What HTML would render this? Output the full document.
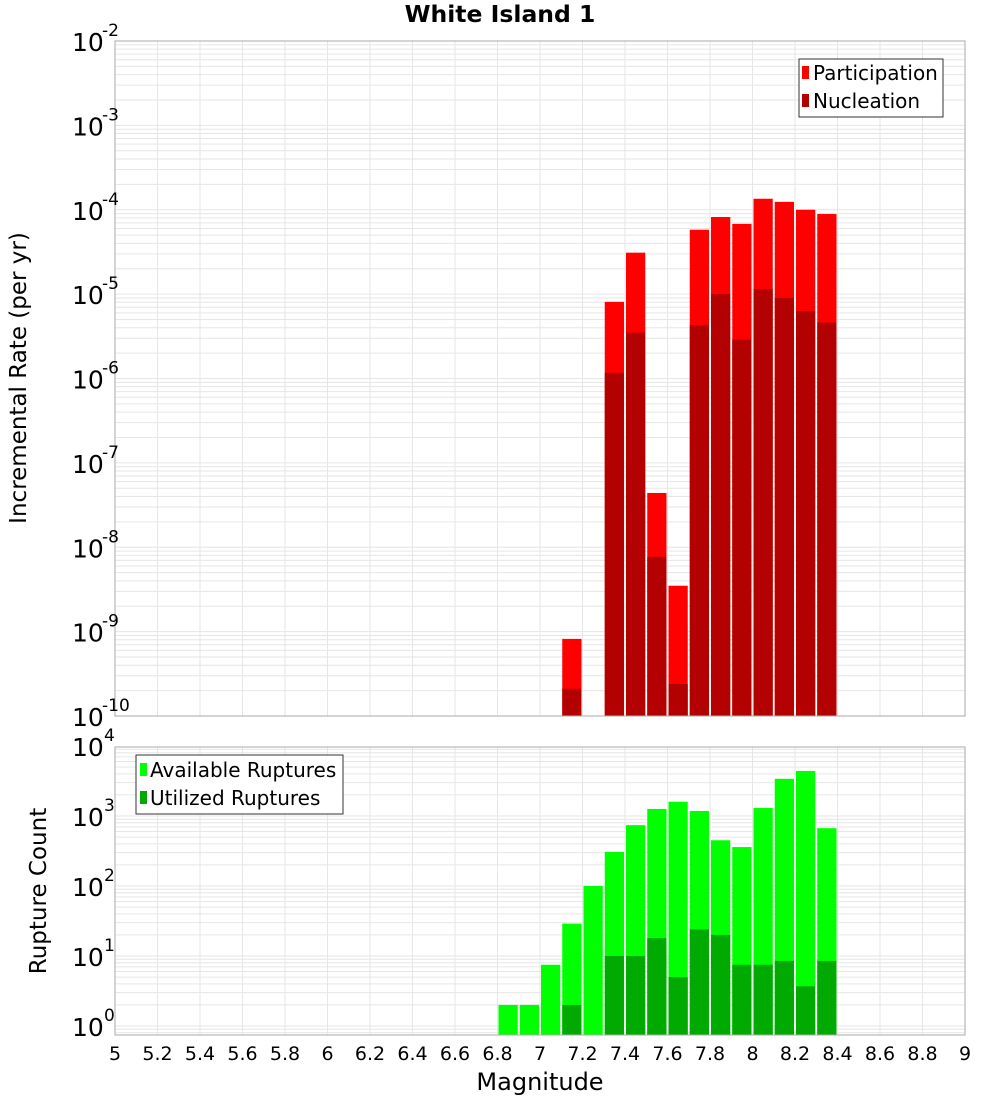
<!DOCTYPE html>
<html><head><meta charset="utf-8"><style>
html,body{margin:0;padding:0;background:#fff;}
svg{display:block;font-family:"DejaVu Sans","Liberation Sans",sans-serif;}
</style></head><body>
<svg id="chart" width="1000" height="1100" viewBox="0 0 1000 1100" xmlns="http://www.w3.org/2000/svg">
<text x="500" y="22" text-anchor="middle" font-size="23.5" font-weight="bold">White Island 1</text>
<g id="topPanel"></g>
<g id="botPanel"></g>
<text transform="translate(26,378) rotate(-90)" text-anchor="middle" font-size="23">Incremental Rate (per yr)</text>
<text transform="translate(46,891) rotate(-90)" text-anchor="middle" font-size="23">Rupture Count</text>
<text x="540" y="1090" text-anchor="middle" font-size="24">Magnitude</text>
<g>
<rect x="799" y="59" width="144" height="58" fill="#fff" stroke="#333" stroke-width="1"/>
<rect x="802" y="66" width="7" height="13" fill="#ff0000"/>
<text x="813" y="80" font-size="20">Participation</text>
<rect x="802" y="94" width="7" height="13" fill="#b30000"/>
<text x="813" y="108" font-size="20">Nucleation</text>
</g>
<g>
<rect x="136" y="755" width="207" height="59" fill="#fff" stroke="#333" stroke-width="1"/>
<rect x="140" y="763" width="7" height="13" fill="#00ff00"/>
<text x="150" y="777" font-size="20">Available Ruptures</text>
<rect x="140" y="791" width="7" height="13" fill="#00aa00"/>
<text x="150" y="805" font-size="20">Utilized Ruptures</text>
</g>
</svg>
<script>
const mags=[6.85,6.95,7.05,7.15,7.25,7.35,7.45,7.55,7.65,7.75,7.85,7.95,8.05,8.15,8.25,8.35];
const participation=[0,0,0,8.2e-10,0,8.1e-6,3.1e-5,4.4e-8,3.5e-9,5.8e-5,8.2e-5,6.8e-5,1.35e-4,1.24e-4,1.0e-4,8.9e-5];
const nucleation=[0,0,0,2.1e-10,0,1.17e-6,3.5e-6,7.7e-9,2.4e-10,4.3e-6,1.0e-5,2.9e-6,1.15e-5,9e-6,6.3e-6,4.6e-6];
const available=[2,2,7.5,29,100,306,740,1260,1600,1180,450,360,1300,3400,4400,670];
const utilized=[0,0,0,2,0,10,10,18,5,24,20,7.5,7.5,8.5,3.7,8.5];
const xTicks=["5","5.2","5.4","5.6","5.8","6","6.2","6.4","6.6","6.8","7","7.2","7.4","7.6","7.8","8","8.2","8.4","8.6","8.8","9"];
const topExps=[-2,-3,-4,-5,-6,-7,-8,-9,-10];
const botExps=[4,3,2,1,0];

(function(){
const NS="http://www.w3.org/2000/svg";
const X0=115,X1=965;
const xs=m=>X0+(m-5)/4*(X1-X0);
const T0=41,T1=716;
const yTop=v=>T0+(-2-Math.log10(v))*(T1-T0)/8;
const B0=747,B1=1035,BDEC=70,BONE=1026;
const yBot=v=>BONE-Math.log10(v)*BDEC;
function el(p,tag,a){const e=document.createElementNS(NS,tag);for(const k in a)e.setAttribute(k,a[k]);p.appendChild(e);return e;}

function panel(g,y0,y1,ymap,dmin,dmax){
  const grid=el(g,'g',{});
  
  
  for(let d=dmin;d<=dmax;d++){for(let k=1;k<10;k++){const y=ymap(k*Math.pow(10,d));if(y>=y0&&y<=y1)el(grid,'line',{x1:X0,x2:X1,y1:y,y2:y,stroke:'#e6e6e6','stroke-width':1});}}
  for(let i=0;i<xTicks.length;i++){const x=xs(parseFloat(xTicks[i]));el(grid,'line',{x1:x,x2:x,y1:y0,y2:y1,stroke:'#e6e6e6','stroke-width':1});}
}
function frame(g,y0,y1){const r=el(g,'rect',{x:X0,y:y0,width:X1-X0,height:y1-y0,fill:'none',stroke:'#aaa','stroke-width':1});}
function bar(g,m,v,col,ymap,yb,name){if(!(v>0))return;const x=xs(m-0.05)+1,w=xs(m+0.05)-xs(m-0.05)-2;const y=Math.max(ymap(v),0);const r=el(g,'rect',{x:x,y:y,width:w,height:yb-y,fill:col});}

const topG=document.getElementById('topPanel'),botG=document.getElementById('botPanel');
el(topG,'rect',{x:X0,y:T0,width:X1-X0,height:T1-T0,fill:'#fff'});
panel(topG,T0,T1,yTop,-10,-3);
el(botG,'rect',{x:X0,y:B0,width:X1-X0,height:B1-B0,fill:'#fff'});
panel(botG,B0,B1,yBot,-1,3);
for(let i=0;i<mags.length;i++){bar(topG,mags[i],participation[i],'#ff0000',yTop,T1,'participation-bar');bar(topG,mags[i],nucleation[i],'#b30000',yTop,T1,'nucleation-bar');}
for(let i=0;i<mags.length;i++){bar(botG,mags[i],available[i],'#00ff00',yBot,B1,'available-bar');bar(botG,mags[i],utilized[i],'#00aa00',yBot,B1,'utilized-bar');}
frame(topG,T0,T1);frame(botG,B0,B1);

topExps.forEach(e=>{const y=yTop(Math.pow(10,e));
 const t=el(topG,'text',{x:72,y:y+10,'font-size':25});
 
 
 t.textContent='10';
 const s=el(topG,'text',{x:102,y:y-5,'font-size':17});
 
 
 s.textContent=String(e);});
botExps.forEach(e=>{const y=yBot(Math.pow(10,e));
 const t=el(botG,'text',{x:72,y:y+10,'font-size':25});
 
 
 t.textContent='10';
 const s=el(botG,'text',{x:104,y:y-5,'font-size':17});
 
 
 s.textContent=String(e);});
xTicks.forEach(l=>{const t=el(botG,'text',{x:xs(parseFloat(l)),y:1060,'text-anchor':'middle','font-size':19});
 
 
 t.textContent=l;});
})();
</script>
</body></html>
